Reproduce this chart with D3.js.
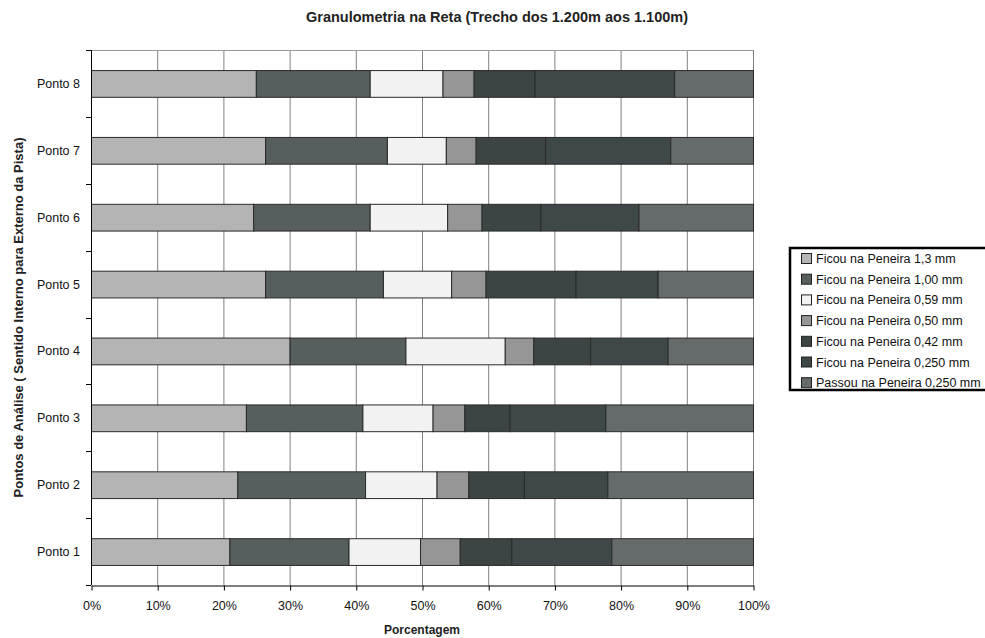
<!DOCTYPE html>
<html><head><meta charset="utf-8">
<script src="https://cdn.jsdelivr.net/npm/d3@7"></script>
<style>body{margin:0;background:#fff;font-family:"Liberation Sans",Arial,sans-serif;}</style>
</head><body><svg id="c" width="985" height="638"></svg>
<script>
const categories = ["Ponto 1","Ponto 2","Ponto 3","Ponto 4","Ponto 5","Ponto 6","Ponto 7","Ponto 8"];
const seriesNames = ["Ficou na Peneira 1,3 mm","Ficou na Peneira 1,00 mm","Ficou na Peneira 0,59 mm","Ficou na Peneira 0,50 mm","Ficou na Peneira 0,42 mm","Ficou na Peneira 0,250 mm","Passou na Peneira 0,250 mm"];
const s13   = [20.9, 22.1, 23.4, 30.0, 26.3, 24.5, 26.3, 24.9];
const s100  = [18.0, 19.3, 17.6, 17.5, 17.8, 17.6, 18.4, 17.2];
const s059  = [10.8, 10.8, 10.6, 15.0, 10.3, 11.7,  8.9, 11.0];
const s050  = [ 6.0,  4.8,  4.8,  4.3,  5.2,  5.2,  4.5,  4.7];
const s042  = [ 7.8,  8.4,  6.8,  8.6, 13.6,  8.9, 10.5,  9.2];
const s0250 = [15.1, 12.6, 14.5, 11.7, 12.4, 14.8, 18.9, 21.1];
const sPass = [21.4, 22.0, 22.3, 12.9, 14.4, 17.3, 12.5, 11.9];
const xTicks = [0,10,20,30,40,50,60,70,80,90,100];
const colors = ["#b4b4b4","#565f5d","#f2f2f2","#969696","#3c4544","#3f4848","#656b6a"];

const series = [s13,s100,s059,s050,s042,s0250,sPass];
const rows = categories.map((c,i)=>{const r={cat:c}; seriesNames.forEach((n,j)=>r[n]=series[j][i]); return r;});
const stacked = d3.stack().keys(seriesNames)(rows);

const svg = d3.select("#c");
const L=91,R=753,T=50,B=585;
const x = d3.scaleLinear().domain([0,100]).range([L,R]);
const y = d3.scaleBand().domain(categories.slice().reverse()).range([T,B]).paddingInner(0.6).paddingOuter(0.3);
const yb = d3.scaleBand().domain(categories.slice().reverse()).range([T,B]);

// grid
svg.append("g").selectAll("line").data(xTicks.slice(1)).join("line")
  .attr("x1",d=>x(d)+0.5).attr("x2",d=>x(d)+0.5).attr("y1",T).attr("y2",B)
  .attr("stroke","#808080").attr("stroke-width",1);
svg.append("line").attr("x1",L).attr("x2",R+0.5).attr("y1",T+0.5).attr("y2",T+0.5).attr("stroke","#999");

// bars
svg.append("g").selectAll("g").data(stacked).join("g")
  .attr("fill",(d,i)=>colors[i])
  .selectAll("rect").data(d=>d).join("rect")
  .attr("x",d=>x(d[0])+0.5).attr("width",d=>x(d[1])-x(d[0]))
  .attr("y",d=>y(d.data.cat)+0.5).attr("height",y.bandwidth())
  .attr("stroke","#2a2a2a").attr("stroke-width",1);

// y axis
svg.append("line").attr("x1",L+0.5).attr("x2",L+0.5).attr("y1",T).attr("y2",B).attr("stroke","#000");
const bounds = categories.map(c=>yb(c)).concat([B]);
svg.append("g").selectAll("line").data(bounds).join("line")
  .attr("x1",L-5).attr("x2",L).attr("y1",d=>Math.round(d)+0.5).attr("y2",d=>Math.round(d)+0.5).attr("stroke","#000");
svg.append("g").selectAll("text").data(categories).join("text")
  .attr("x",80).attr("y",d=>yb(d)+yb.bandwidth()/2+4.5).attr("text-anchor","end")
  .attr("font-size",12.5).attr("fill","#111").text(d=>d);

// x axis
const xa = svg.append("g").attr("transform",`translate(0.5,${B+0.5})`)
  .call(d3.axisBottom(x).tickValues(xTicks).tickFormat(d=>d+"%").tickSize(5).tickSizeOuter(0));
xa.select(".domain").attr("stroke","#000");
xa.selectAll("line").attr("stroke","#000");
xa.selectAll("text").attr("font-size",12.5).attr("font-family","Liberation Sans, Arial").attr("fill","#111").attr("dy","1.3em");

// titles
svg.append("text").attr("x",497).attr("y",22).attr("text-anchor","middle").attr("font-weight","bold").attr("font-size",14.5).attr("fill","#222")
  .text("Granulometria na Reta (Trecho dos 1.200m aos 1.100m)");
svg.append("text").attr("x",(L+R)/2).attr("y",634).attr("text-anchor","middle").attr("font-weight","bold").attr("font-size",12).attr("fill","#222")
  .text("Porcentagem");
svg.append("text").attr("transform",`translate(23,${(T+B)/2}) rotate(-90)`).attr("text-anchor","middle").attr("font-weight","bold").attr("font-size",13).attr("fill","#222")
  .text("Pontos de Análise ( Sentido Interno para Externo da Pista)");

// legend
const lg = svg.append("g").attr("transform","translate(790,248)");
lg.append("rect").attr("x",0).attr("y",0).attr("width",200).attr("height",142).attr("fill","#fff").attr("stroke","#000").attr("stroke-width",2.5);
const it = lg.selectAll("g").data(seriesNames).join("g").attr("transform",(d,i)=>`translate(11,${10.5+i*20.7})`);
it.append("rect").attr("x",0.5).attr("y",-5).attr("width",10).attr("height",10).attr("fill",(d,i)=>colors[i]).attr("stroke","#222");
it.append("text").attr("x",15).attr("y",4.5).attr("font-size",12.5).attr("fill","#111").text(d=>d);
</script></body></html>
